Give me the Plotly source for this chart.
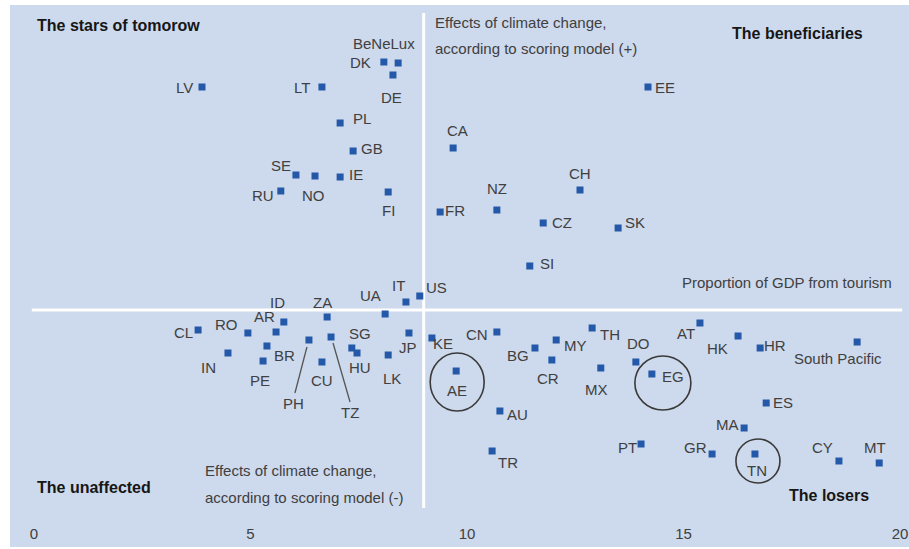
import plotly.graph_objects as go

# ---------------- data ----------------
codes = ["LV", "LT", "DK", "BeNeLux", "DE", "PL", "GB", "SE", "NO", "IE", "RU", "FI",
         "CA", "FR", "NZ", "CH", "CZ", "SK", "SI", "EE", "UA", "IT", "US",
         "CL", "RO", "IN", "AR", "ID", "BR", "PE", "PH", "ZA", "TZ", "CU", "SG", "HU",
         "LK", "JP", "KE", "AE", "CN", "BG", "MY", "CR", "TH", "MX", "DO", "EG",
         "AU", "TR", "PT", "AT", "HK", "HR", "South Pacific", "ES", "MA", "GR", "TN",
         "CY", "MT"]

# proportion of GDP from tourism (x)
tourism = [3.88, 6.65, 8.08, 8.41, 8.29, 7.07, 7.37, 6.05, 6.49, 7.07, 5.70, 8.18,
           9.68, 9.38, 10.69, 12.61, 11.76, 13.49, 11.45, 14.18, 8.11, 8.59, 8.91,
           3.79, 4.94, 4.48, 5.59, 5.77, 5.38, 5.29, 6.35, 6.77, 6.86, 6.65, 7.34, 7.46,
           8.18, 8.66, 9.19, 9.75, 10.69, 11.57, 12.06, 11.96, 12.89, 13.09, 13.90, 14.27,
           10.76, 10.58, 14.02, 15.38, 16.26, 16.77, 19.01, 16.91, 16.40, 15.66, 16.65,
           18.59, 19.52]

# effects of climate change according to scoring model (y)
climate = [22.3, 22.3, 24.8, 24.7, 23.5, 18.7, 15.9, 13.5, 13.4, 13.3, 11.9, 11.8,
           16.2, 9.8, 10.0, 12.0, 8.7, 8.2, 4.4, 22.3, -0.4, 0.8, 1.4,
           -2.0, -2.3, -4.3, -2.2, -1.2, -3.6, -5.1, -3.0, -0.7, -2.7, -5.2, -3.8, -4.3,
           -4.5, -2.3, -2.8, -6.1, -2.2, -3.8, -3.0, -5.0, -1.8, -5.8, -5.2, -6.4,
           -10.1, -14.1, -13.4, -1.3, -2.6, -3.8, -3.2, -9.3, -11.8, -14.4, -14.4,
           -15.1, -15.3]

x_ticks = [0, 5, 10, 15, 20]
x_ticktext = ["0", "5", "10", "15", "20"]
x_split = 9.0   # vertical divider
y_split = 0.0   # horizontal divider

highlighted = ["AE", "EG", "TN"]
leader_labels = ["PH", "TZ"]

# ---------------- styles ----------------
BG = "#cdd9ec"
MARKER = "#2458a8"
LABEL_COL = "#404040"
TITLE_COL = "#161616"
FONT = "Liberation Sans, Arial, sans-serif"

# label offsets in screen pixels (dx right, dy down)
label_off = {
    "LV": (-17, 0), "LT": (-20, 0), "DK": (-23, 0), "BeNeLux": (-14, -20), "DE": (-1, 22),
    "PL": (22, -5), "GB": (19, -3), "SE": (-15, -10), "NO": (-2, 19), "IE": (16, -3),
    "RU": (-18, 4), "FI": (0, 18), "CA": (4, -18), "FR": (15, -2), "NZ": (0, -22),
    "CH": (0, -17), "CZ": (19, -1), "SK": (17, -6), "SI": (17, -3), "EE": (17, 0),
    "UA": (-15, -19), "IT": (-7, -17), "US": (17, -9), "CL": (-15, 2), "RO": (-21, -9),
    "IN": (-19, 14), "AR": (-12, -16), "ID": (-6, -20), "BR": (18, 9), "PE": (-3, 19),
    "PH": (-15, 63), "ZA": (-5, -15), "TZ": (19, 75), "CU": (0, 18), "SG": (8, -15),
    "HU": (3, 14), "LK": (4, 23), "JP": (-1, 14), "KE": (11, 5), "AE": (1, 19),
    "CN": (-20, 2), "BG": (-17, 7), "MY": (19, 5), "CR": (-4, 18), "TH": (18, 6),
    "MX": (-4, 21), "DO": (3, -19), "EG": (21, 2), "AU": (18, 3), "TR": (16, 11),
    "PT": (-14, 3), "AT": (-14, 10), "HK": (-21, 12), "HR": (15, -3),
    "South Pacific": (-19, 16), "ES": (17, -1), "MA": (-17, -4), "GR": (-17, -7),
    "TN": (2, 16), "CY": (-16, -14), "MT": (-4, -16),
}
# highlight circles: centre offset (dx, dy down) and radii in pixels
circle_geom = {"AE": (1, 11, 27, 29), "EG": (11, 9, 28, 27), "TN": (3, 7, 22, 22)}
# leader lines: start/end offsets in pixels (dx, dy down)
leader_geom = {"PH": ((-2, 7), (-14, 53)), "TZ": ((2, 6), (19, 65))}

fig = go.Figure()
fig.add_trace(go.Scatter(
    x=tourism, y=climate, mode="markers",
    marker=dict(symbol="square", size=7, color=MARKER, line=dict(width=0)),
    hovertext=codes, hoverinfo="text", showlegend=False,
))

annotations = []
for c, xv, yv in zip(codes, tourism, climate):
    dx, dy = label_off[c]
    annotations.append(dict(x=xv, y=yv, text=c, showarrow=False, xshift=dx, yshift=-dy,
                            font=dict(size=15, color=LABEL_COL, family=FONT)))

shapes = []
# divider lines
shapes.append(dict(type="line", xref="x", yref="y", x0=-0.05, x1=20.05, y0=y_split, y1=y_split,
                   line=dict(color="white", width=3), layer="below"))
shapes.append(dict(type="line", xref="x", yref="y", x0=x_split, x1=x_split, y0=-19.8, y1=29.7,
                   line=dict(color="white", width=3), layer="below"))

lookup = {c: (xv, yv) for c, xv, yv in zip(codes, tourism, climate)}
for c in highlighted:
    xv, yv = lookup[c]
    cx, cy, rx, ry = circle_geom[c]
    shapes.append(dict(type="circle", xref="x", yref="y", xsizemode="pixel", ysizemode="pixel",
                       xanchor=xv, yanchor=yv, x0=cx - rx, x1=cx + rx, y0=-cy - ry, y1=-cy + ry,
                       line=dict(color="#3a3a3a", width=1.6)))
for c in leader_labels:
    xv, yv = lookup[c]
    (sx, sy), (ex, ey) = leader_geom[c]
    shapes.append(dict(type="line", xref="x", yref="y", xsizemode="pixel", ysizemode="pixel",
                       xanchor=xv, yanchor=yv, x0=sx, x1=ex, y0=-sy, y1=-ey,
                       line=dict(color="#555555", width=1.3)))

# quadrant captions
def cap(x, y, text, bold=False):
    annotations.append(dict(x=x, y=y, text=("<b>%s</b>" % text) if bold else text,
                            showarrow=False, xanchor="left", yanchor="middle",
                            font=dict(size=16 if bold else 15,
                                      color=TITLE_COL if bold else LABEL_COL, family=FONT)))

cap(0.02, 28.5, "The stars of tomorow", bold=True)
cap(16.07, 27.7, "The beneficiaries", bold=True)
cap(9.21, 28.8, "Effects of climate change,")
cap(9.21, 26.2, "according to scoring model (+)")
cap(14.92, 2.8, "Proportion of GDP from tourism")
cap(0.02, -17.7, "The unaffected", bold=True)
cap(3.90, -16.0, "Effects of climate change,")
cap(3.90, -18.7, "according to scoring model (-)")
cap(17.39, -18.5, "The losers", bold=True)

fig.update_layout(
    width=909, height=549,
    margin=dict(l=10, r=0, t=5, b=2),
    paper_bgcolor="white", plot_bgcolor=BG,
    font=dict(family=FONT, color=LABEL_COL, size=15),
    xaxis=dict(range=[-0.554, 20.208], showgrid=False, zeroline=False, showline=False,
               tickvals=x_ticks, ticktext=x_ticktext, ticks="", ticklabelposition="inside",
               ticklabeloverflow="allow", ticklabelstandoff=2,
               tickfont=dict(size=15, color=LABEL_COL, family=FONT), fixedrange=True),
    yaxis=dict(range=[-23.7, 30.5], visible=False, fixedrange=True),
    annotations=annotations, shapes=shapes,
)

fig.write_html("out.html", config={"displayModeBar": False},
               post_script="document.body.style.margin='0';document.body.style.overflow='hidden';")
